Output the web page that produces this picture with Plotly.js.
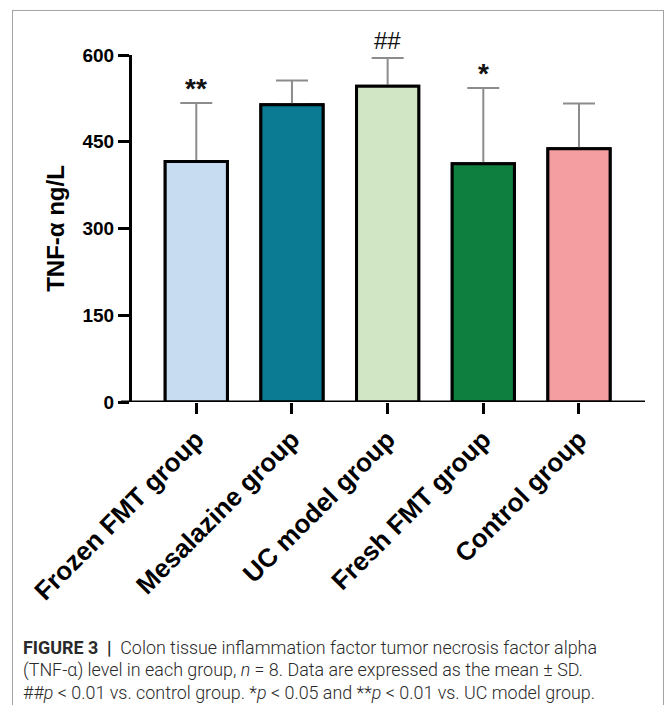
<!DOCTYPE html>
<html>
<head>
<meta charset="utf-8">
<script src="https://cdn.plot.ly/plotly-3.0.1.min.js"></script>
<style>
  html, body { margin: 0; padding: 0; background: #ffffff; }
  #wrap { position: relative; width: 670px; height: 705px; overflow: hidden; }
  #chart { position: absolute; left: 0; top: 0; width: 670px; height: 705px; }
  #frame { position: absolute; left: 12px; top: 10px; width: 650px; height: 720px;
           border: 1.5px solid #a3a3a3; pointer-events: none; }
</style>
</head>
<body>
<div id="wrap">
  <div id="chart"></div>
  <div id="frame"></div>
</div>
<script>
// TNF-α level per group (mean and SD, ng/L)
const groups = ["Frozen FMT group", "Mesalazine group", "UC model group", "Fresh FMT group", "Control group"];
const meanValues = [416, 514, 546, 412, 438];
const sdValues = [101, 42, 49, 131, 78];
const barColors = ["#c7dcf0", "#0b7b94", "#d0e6c4", "#0f7f3f", "#f59ea1"];
const significance = ["**", "", "##", "*", ""];
const yTicks = [0, 150, 300, 450, 600];

// figure legend, one entry per printed line
const captionLines = [
  "<b>FIGURE 3</b>  <b>|</b>  Colon tissue inflammation factor tumor necrosis factor alpha",
  "(TNF-α) level in each group, <i>n</i> = 8. Data are expressed as the mean ± SD.",
  "##<i>p</i> < 0.01 vs. control group. *<i>p</i> < 0.05 and **<i>p</i> < 0.01 vs. UC model group."
];

const barBase = {
  type: "bar",
  x: groups,
  y: meanValues,
  width: 0.65,
  marker: { color: barColors, line: { color: "#000000", width: 3 } },
  hoverinfo: "skip",
  showlegend: false
};

// first layer carries the upper SD whiskers
const whiskerBars = Object.assign({}, barBase, {
  error_y: {
    type: "data",
    symmetric: false,
    array: sdValues,
    arrayminus: sdValues.map(() => 0),
    color: "#8c8c8c",
    thickness: 2,
    width: 16
  }
});

// second layer repaints the bars so the whisker foot is hidden
const topBars = Object.assign({}, barBase);

// significance marks sit just above each error-bar cap
const marks = groups.map((g, i) => ({
  x: g,
  y: meanValues[i] + sdValues[i],
  xref: "x",
  yref: "y",
  text: significance[i],
  showarrow: false,
  yanchor: "bottom",
  yshift: significance[i].startsWith("#") ? 2 : -3,
  font: { family: "Liberation Sans, Arial, sans-serif", size: significance[i].startsWith("#") ? 24 : 28,
          weight: significance[i].startsWith("#") ? "normal" : "bold", color: "#111111" }
})).filter(a => a.text !== "");

// pixel helpers for the plot area (l=132, width 513; zero line at 401.7, height 346.7)
const pxX = px => (px - 132) / 513;
const pxY = py => (401.7 - py) / 346.7;

const captionTops = [634, 656.5, 679];
const caption = captionLines.map((t, i) => ({
  xref: "paper", yref: "paper",
  x: pxX(21), y: pxY(captionTops[i]),
  xanchor: "left", yanchor: "top", align: "left",
  showarrow: false,
  text: t,
  font: { family: "Roboto, Liberation Sans, sans-serif", size: 17.9, color: "#2a2a2a", weight: 300 }
}));

const layout = {
  width: 670,
  height: 705,
  margin: { l: 132, r: 25, t: 55, b: 303.3 },
  paper_bgcolor: "rgba(0,0,0,0)",
  plot_bgcolor: "rgba(0,0,0,0)",
  showlegend: false,
  barmode: "overlay",
  font: { family: "Liberation Sans, Arial, sans-serif", color: "#000000" },
  xaxis: {
    type: "category",
    range: [-0.672, 4.69],
    showline: false,
    showgrid: false,
    zeroline: false,
    ticks: "outside",
    ticklen: 11,
    tickwidth: 3,
    tickcolor: "#000000",
    tickangle: -45,
    tickfont: { family: "Liberation Sans, Arial, sans-serif", size: 26, weight: "bold", color: "#000000" },
    fixedrange: true
  },
  yaxis: {
    range: [0, 600],
    tickvals: yTicks,
    ticktext: yTicks.map(String),
    showline: true,
    linecolor: "#000000",
    linewidth: 3,
    showgrid: false,
    zeroline: false,
    ticks: "outside",
    ticklen: 11,
    tickwidth: 3,
    tickcolor: "#000000",
    tickfont: { family: "Liberation Sans, Arial, sans-serif", size: 19, weight: "bold", color: "#000000" },
    title: {
      text: "TNF-α ng/L",
      font: { family: "Liberation Sans, Arial, sans-serif", size: 24, weight: "bold", color: "#000000" },
      standoff: 12
    },
    fixedrange: true
  },
  shapes: [
    // baseline reaching under the zero tick
    { type: "line", xref: "paper", yref: "y", x0: pxX(121), x1: 1, y0: 0, y1: 0,
      line: { color: "#000000", width: 3 } }
  ],
  annotations: marks.concat(caption)
};

Plotly.newPlot("chart", [whiskerBars, topBars], layout, { staticPlot: true, displayModeBar: false });
</script>
</body>
</html>
